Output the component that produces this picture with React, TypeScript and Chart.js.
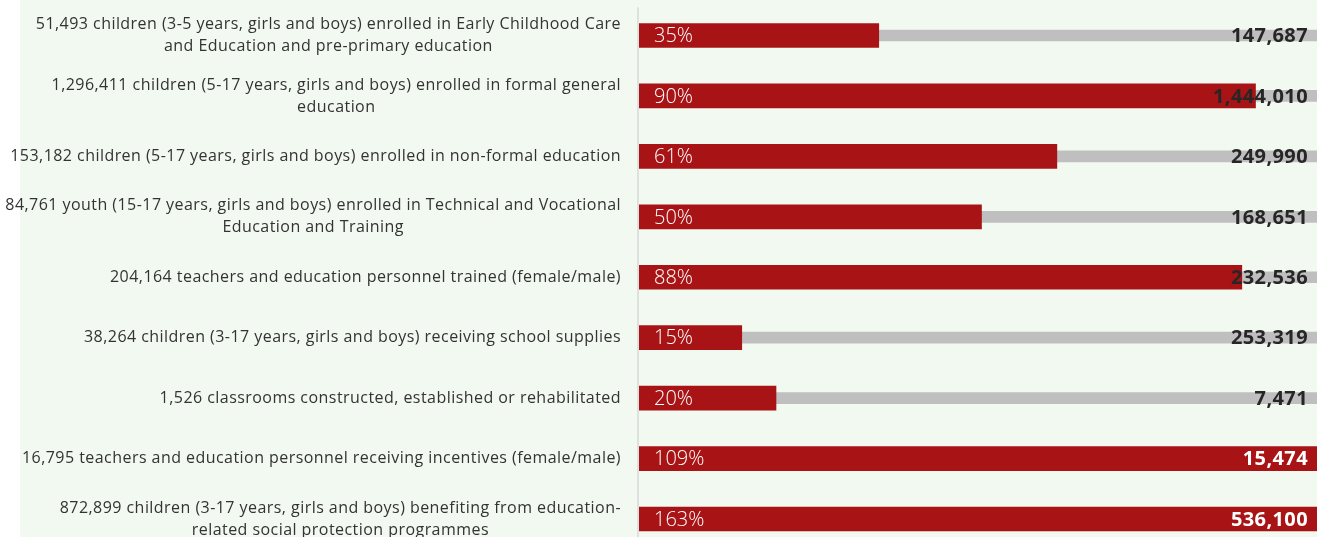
import React, { useEffect, useRef } from "react";
import { Chart, registerables } from "chart.js";

Chart.register(...registerables);

const categories: string[][] = [
  ["51,493 children (3-5 years, girls and boys) enrolled in Early Childhood Care", "and Education and pre-primary education"],
  ["1,296,411 children (5-17 years, girls and boys) enrolled in formal general", "education"],
  ["153,182 children (5-17 years, girls and boys) enrolled in non-formal education"],
  ["84,761 youth (15-17 years, girls and boys) enrolled in Technical and Vocational", "Education and Training"],
  ["204,164 teachers and education personnel trained (female/male)"],
  ["38,264 children (3-17 years, girls and boys) receiving school supplies"],
  ["1,526 classrooms constructed, established or rehabilitated"],
  ["16,795 teachers and education personnel receiving incentives (female/male)"],
  ["872,899 children (3-17 years, girls and boys) benefiting from education-", "related social protection programmes"],
];

const achievedPct: number[] = [35, 90, 61, 50, 88, 15, 20, 109, 163];
const targetPct: number[] = [100, 100, 100, 100, 100, 100, 100, 100, 100];
const targetLabels: string[] = [
  "147,687", "1,444,010", "249,990", "168,651", "232,536", "253,319", "7,471", "15,474", "536,100",
];

const FONT = "'Open Sans', Roboto, sans-serif";

const overlayPlugin = {
  id: "overlay",
  afterDatasetsDraw(chart: any) {
    const ctx = chart.ctx;
    const area = chart.chartArea;
    const yScale = chart.scales.y;
    ctx.save();
    ctx.strokeStyle = "#d9d9d9";
    ctx.lineWidth = 1.5;
    ctx.beginPath();
    ctx.moveTo(area.left - 1, area.top + 2);
    ctx.lineTo(area.left - 1, area.bottom);
    ctx.stroke();

    categories.forEach((lines, i) => {
      const cy = yScale.getPixelForValue(i);
      ctx.font = `16px ${FONT}`;
      (ctx as any).letterSpacing = "0.45px";
      ctx.fillStyle = "#333333";
      ctx.textBaseline = "middle";
      const widths = lines.map((l) => ctx.measureText(l).width);
      const maxW = Math.max(...widths);
      const rightEdge = area.left - 18;
      const centerX = rightEdge - maxW / 2;
      const lh = 22;
      const startY = cy - ((lines.length - 1) * lh) / 2;
      ctx.textAlign = "center";
      lines.forEach((l, j) => ctx.fillText(l, centerX, startY + j * lh));

      (ctx as any).letterSpacing = "0px";
      ctx.font = `300 20px ${FONT}`;
      ctx.fillStyle = "#ffffff";
      ctx.textAlign = "left";
      ctx.fillText(achievedPct[i] + "%", area.left + 15, cy + 1);

      (ctx as any).letterSpacing = "0.4px";
      ctx.font = `bold 20px ${FONT}`;
      ctx.fillStyle = achievedPct[i] >= 100 ? "#ffffff" : "#262626";
      ctx.textAlign = "right";
      ctx.fillText(targetLabels[i], 1308, cy + 1);
      (ctx as any).letterSpacing = "0px";
    });
    ctx.restore();
  },
};

export default function App() {
  const ref = useRef<HTMLCanvasElement>(null);
  useEffect(() => {
    if (!ref.current) return;
    const chart = new Chart(ref.current, {
      type: "bar",
      data: {
        labels: categories.map((c) => c.join(" ")),
        datasets: [
          {
            label: "Achieved",
            data: achievedPct.map((v) => Math.min(v, 100)),
            backgroundColor: "#a81416",
            barThickness: 24,
            grouped: false,
            order: 0,
          },
          {
            label: "Target",
            data: targetPct,
            backgroundColor: "#bfbfbf",
            barThickness: 11,
            grouped: false,
            order: 1,
          },
        ],
      },
      options: {
        indexAxis: "y",
        animation: false,
        responsive: false,
        maintainAspectRatio: false,
        layout: { padding: { left: 639, right: 0, top: 5.3, bottom: 6.8 } },
        plugins: { legend: { display: false }, tooltip: { enabled: false } },
        scales: {
          x: { display: false, min: 0, max: 100 },
          y: { display: false },
        },
      },
      plugins: [overlayPlugin],
    });
    return () => chart.destroy();
  }, []);
  return (
    <div style={{ position: "fixed", left: 0, top: 0, width: 1317, height: 537, overflow: "hidden", background: "#ffffff" }}>
      <div style={{ position: "absolute", left: 20, top: 0, right: 0, bottom: 0, background: "#f2f9f0" }} />
      <canvas ref={ref} width={1324} height={556} style={{ position: "absolute", left: 0, top: 0, width: 1324, height: 556 }} />
    </div>
  );
}
